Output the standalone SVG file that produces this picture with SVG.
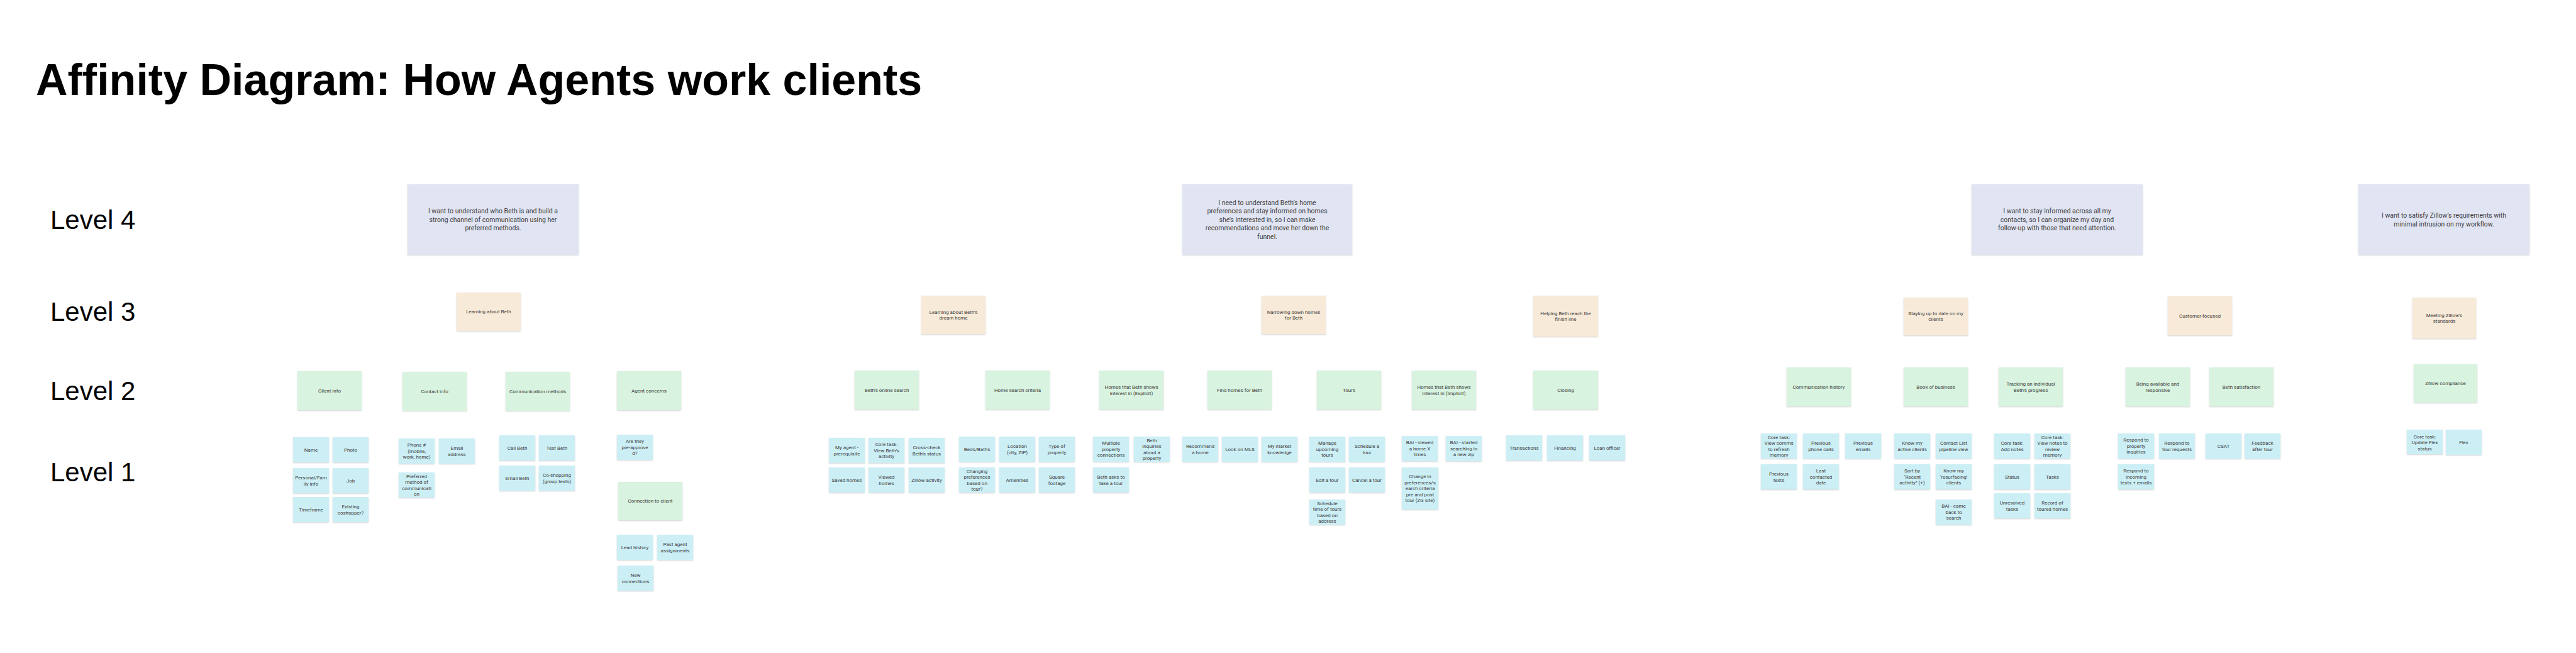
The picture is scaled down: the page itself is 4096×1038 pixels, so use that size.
<svg xmlns="http://www.w3.org/2000/svg" width="4096" height="1038" viewBox="0 0 4096 1038">
<defs>
<filter id="sh" x="-10%" y="-10%" width="120%" height="130%"><feDropShadow dx="0" dy="1" stdDeviation="1" flood-color="#000" flood-opacity="0.18"/></filter>
<style>
.n4{fill:#E1E4F2;filter:url(#sh)}
.n3{fill:#F8EAD8;filter:url(#sh)}
.n2{fill:#D8F3DF;filter:url(#sh)}
.n1{fill:#CCEFF6;filter:url(#sh)}
.t{font-family:Roboto,'Liberation Sans',sans-serif;font-size:8px;fill:#3c3c3c;text-anchor:middle}
.tl{font-family:Roboto,'Liberation Sans',sans-serif;font-size:10.5px;fill:#3c3c3c;text-anchor:middle}
.title{font-family:'Liberation Sans',Arial,sans-serif;font-size:70px;font-weight:bold;fill:#000}
.lvl{font-family:'Liberation Sans',Arial,sans-serif;font-size:42px;fill:#000}
</style>
</defs>
<rect width="4096" height="1038" fill="#fff"/>
<text class="title" x="57" y="151">Affinity Diagram: How Agents work clients</text>
<g id="levels">
<text class="lvl" x="80" y="364">Level 4</text>
<text class="lvl" x="80" y="510">Level 3</text>
<text class="lvl" x="80" y="636">Level 2</text>
<text class="lvl" x="80" y="765">Level 1</text>
</g>
<g id="connectors"/>

<!-- Level 4 -->
<g id="l4-a"><rect class="n4" x="648" y="293" width="272" height="112"/><text class="tl" y="339.2"><tspan x="784">I want to understand who Beth is and build a</tspan><tspan x="784" dy="13.5">strong channel of communication using her</tspan><tspan x="784" dy="13.5">preferred methods.</tspan></text></g>
<g id="l4-b"><rect class="n4" x="1880" y="293" width="270" height="112"/><text class="tl" y="325.7"><tspan x="2015">I need to understand Beth’s home</tspan><tspan x="2015" dy="13.5">preferences and stay informed on homes</tspan><tspan x="2015" dy="13.5">she’s interested in, so I can make</tspan><tspan x="2015" dy="13.5">recommendations and move her down the</tspan><tspan x="2015" dy="13.5">funnel.</tspan></text></g>
<g id="l4-c"><rect class="n4" x="3135" y="293" width="272" height="112"/><text class="tl" y="339.2"><tspan x="3271">I want to stay informed across all my</tspan><tspan x="3271" dy="13.5">contacts, so I can organize my day and</tspan><tspan x="3271" dy="13.5">follow-up with those that need attention.</tspan></text></g>
<g id="l4-d"><rect class="n4" x="3750" y="293" width="272" height="112"/><text class="tl" y="346"><tspan x="3886">I want to satisfy Zillow’s requirements with</tspan><tspan x="3886" dy="13.5">minimal intrusion on my workflow.</tspan></text></g>

<!-- Level 3 -->
<g id="l3-learning-beth"><rect class="n3" x="726" y="465" width="102" height="61"/><text class="t" x="777" y="498.3">Learning about Beth</text></g>
<g id="l3-dream-home"><rect class="n3" x="1465" y="470" width="102" height="61"/><text class="t" y="498.55"><tspan x="1516">Learning about Beth’s</tspan><tspan x="1516" dy="9.5">dream home</tspan></text></g>
<g id="l3-narrowing"><rect class="n3" x="2006" y="470" width="102" height="61"/><text class="t" y="498.55"><tspan x="2057">Narrowing down homes</tspan><tspan x="2057" dy="9.5">for Beth</tspan></text></g>
<g id="l3-finish"><rect class="n3" x="2438" y="470" width="103" height="65"/><text class="t" y="500.55"><tspan x="2489.5">Helping Beth reach the</tspan><tspan x="2489.5" dy="9.5">finish line</tspan></text></g>
<g id="l3-staying"><rect class="n3" x="3027" y="473" width="102" height="60"/><text class="t" y="500.55"><tspan x="3078">Staying up to date on my</tspan><tspan x="3078" dy="9.5">clients</tspan></text></g>
<g id="l3-customer"><rect class="n3" x="3447" y="471" width="102" height="62"/><text class="t" x="3498" y="504.8">Customer-focused</text></g>
<g id="l3-zillow"><rect class="n3" x="3836" y="473" width="101" height="65"/><text class="t" y="503.55"><tspan x="3886.5">Meeting Zillow’s</tspan><tspan x="3886.5" dy="9.5">standards</tspan></text></g>

<!-- Level 2 -->
<g id="l2-client-info"><rect class="n2" x="473" y="590" width="102" height="62"/><text class="t" x="524" y="623.8">Client info</text></g>
<g id="l2-contact-info"><rect class="n2" x="640" y="591" width="102" height="62"/><text class="t" x="691" y="624.8">Contact info</text></g>
<g id="l2-comm-methods"><rect class="n2" x="804" y="591" width="102" height="62"/><text class="t" x="855" y="624.8">Communication methods</text></g>
<g id="l2-agent-concerns"><rect class="n2" x="981" y="590" width="102" height="62"/><text class="t" x="1032" y="623.8">Agent concerns</text></g>
<g id="l2-connection"><rect class="n2" x="983" y="766" width="102" height="61"/><text class="t" x="1034" y="799.3">Connection to client</text></g>
<g id="l2-online-search"><rect class="n2" x="1359" y="589" width="102" height="62"/><text class="t" x="1410" y="622.8">Beth’s online search</text></g>
<g id="l2-criteria"><rect class="n2" x="1567" y="589" width="102" height="62"/><text class="t" x="1618" y="622.8">Home search criteria</text></g>
<g id="l2-explicit"><rect class="n2" x="1748" y="589" width="102" height="62"/><text class="t" y="618.05"><tspan x="1799">Homes that Beth shows</tspan><tspan x="1799" dy="9.5">interest in (Explicit)</tspan></text></g>
<g id="l2-find-homes"><rect class="n2" x="1920" y="589" width="102" height="62"/><text class="t" x="1971" y="622.8">Find homes for Beth</text></g>
<g id="l2-tours"><rect class="n2" x="2094" y="589" width="102" height="62"/><text class="t" x="2145" y="622.8">Tours</text></g>
<g id="l2-implicit"><rect class="n2" x="2245" y="589" width="102" height="62"/><text class="t" y="618.05"><tspan x="2296">Homes that Beth shows</tspan><tspan x="2296" dy="9.5">interest in (Implicit)</tspan></text></g>
<g id="l2-closing"><rect class="n2" x="2438" y="589" width="103" height="62"/><text class="t" x="2489.5" y="622.8">Closing</text></g>
<g id="l2-comm-history"><rect class="n2" x="2841" y="584" width="102" height="62"/><text class="t" x="2892" y="617.8">Communication history</text></g>
<g id="l2-book"><rect class="n2" x="3027" y="584" width="102" height="62"/><text class="t" x="3078" y="617.8">Book of business</text></g>
<g id="l2-tracking"><rect class="n2" x="3178" y="584" width="102" height="62"/><text class="t" y="613.05"><tspan x="3229">Tracking an individual</tspan><tspan x="3229" dy="9.5">Beth’s progress</tspan></text></g>
<g id="l2-available"><rect class="n2" x="3380" y="584" width="102" height="62"/><text class="t" y="613.05"><tspan x="3431">Being available and</tspan><tspan x="3431" dy="9.5">responsive</tspan></text></g>
<g id="l2-satisfaction"><rect class="n2" x="3513" y="584" width="102" height="62"/><text class="t" x="3564" y="617.8">Beth satisfaction</text></g>
<g id="l2-compliance"><rect class="n2" x="3838" y="579" width="101" height="61"/><text class="t" x="3888.5" y="612.3">Zillow compliance</text></g>

<!-- Level 1: section 1 -->
<g id="s-name"><rect class="n1" x="466" y="695" width="57" height="40"/><text class="t" x="494.5" y="717.8">Name</text></g>
<g id="s-photo"><rect class="n1" x="529" y="695" width="57" height="40"/><text class="t" x="557.5" y="717.8">Photo</text></g>
<g id="s-personal"><rect class="n1" x="466" y="744" width="57" height="40"/><text class="t" y="762.05"><tspan x="494.5">Personal/Fam</tspan><tspan x="494.5" dy="9.5">ily info</tspan></text></g>
<g id="s-job"><rect class="n1" x="529" y="744" width="57" height="40"/><text class="t" x="557.5" y="766.8">Job</text></g>
<g id="s-timeframe"><rect class="n1" x="466" y="790" width="57" height="40"/><text class="t" x="494.5" y="812.8">Timeframe</text></g>
<g id="s-coshopper"><rect class="n1" x="529" y="790" width="57" height="40"/><text class="t" y="808.05"><tspan x="557.5">Existing</tspan><tspan x="557.5" dy="9.5">coshopper?</tspan></text></g>
<g id="s-phone"><rect class="n1" x="634" y="697" width="57" height="40"/><text class="t" y="710.3"><tspan x="662.5">Phone #</tspan><tspan x="662.5" dy="9.5">(mobile,</tspan><tspan x="662.5" dy="9.5">work, home)</tspan></text></g>
<g id="s-email-address"><rect class="n1" x="698" y="697" width="57" height="40"/><text class="t" y="715.05"><tspan x="726.5">Email</tspan><tspan x="726.5" dy="9.5">address</tspan></text></g>
<g id="s-preferred"><rect class="n1" x="634" y="751" width="57" height="40"/><text class="t" y="759.55"><tspan x="662.5">Preferred</tspan><tspan x="662.5" dy="9.5">method of</tspan><tspan x="662.5" dy="9.5">communicati</tspan><tspan x="662.5" dy="9.5">on</tspan></text></g>
<g id="s-call"><rect class="n1" x="794" y="692" width="57" height="40"/><text class="t" x="822.5" y="714.8">Call Beth</text></g>
<g id="s-text"><rect class="n1" x="857" y="692" width="57" height="40"/><text class="t" x="885.5" y="714.8">Text Beth</text></g>
<g id="s-email-beth"><rect class="n1" x="794" y="740" width="57" height="40"/><text class="t" x="822.5" y="762.8">Email Beth</text></g>
<g id="s-coshopping"><rect class="n1" x="857" y="740" width="57" height="40"/><text class="t" y="758.05"><tspan x="885.5">Co-shopping</tspan><tspan x="885.5" dy="9.5">(group texts)</tspan></text></g>
<g id="s-preapproved"><rect class="n1" x="981" y="691" width="57" height="40"/><text class="t" y="704.3"><tspan x="1009.5">Are they</tspan><tspan x="1009.5" dy="9.5">pre-approve</tspan><tspan x="1009.5" dy="9.5">d?</tspan></text></g>
<g id="s-lead"><rect class="n1" x="981" y="850" width="57" height="40"/><text class="t" x="1009.5" y="872.8">Lead history</text></g>
<g id="s-past-agent"><rect class="n1" x="1045" y="850" width="57" height="40"/><text class="t" y="868.05"><tspan x="1073.5">Past agent</tspan><tspan x="1073.5" dy="9.5">assignments</tspan></text></g>
<g id="s-new-conn"><rect class="n1" x="982" y="899" width="57" height="40"/><text class="t" y="917.05"><tspan x="1010.5">New</tspan><tspan x="1010.5" dy="9.5">connections</tspan></text></g>

<!-- Level 1: section 2 -->
<g id="s-my-agent"><rect class="n1" x="1318" y="696" width="57" height="40"/><text class="t" y="714.05"><tspan x="1346.5">My agent -</tspan><tspan x="1346.5" dy="9.5">prerequisite</tspan></text></g>
<g id="s-view-activity"><rect class="n1" x="1381" y="696" width="57" height="40"/><text class="t" y="709.3"><tspan x="1409.5">Core task:</tspan><tspan x="1409.5" dy="9.5">View Beth’s</tspan><tspan x="1409.5" dy="9.5">activity</tspan></text></g>
<g id="s-crosscheck"><rect class="n1" x="1445" y="696" width="57" height="40"/><text class="t" y="714.05"><tspan x="1473.5">Cross-check</tspan><tspan x="1473.5" dy="9.5">Beth’s status</tspan></text></g>
<g id="s-saved"><rect class="n1" x="1318" y="743" width="57" height="40"/><text class="t" x="1346.5" y="765.8">Saved homes</text></g>
<g id="s-viewed"><rect class="n1" x="1381" y="743" width="57" height="40"/><text class="t" y="761.05"><tspan x="1409.5">Viewed</tspan><tspan x="1409.5" dy="9.5">homes</tspan></text></g>
<g id="s-zillow-activity"><rect class="n1" x="1445" y="743" width="57" height="40"/><text class="t" x="1473.5" y="765.8">Zillow activity</text></g>
<g id="s-beds"><rect class="n1" x="1525" y="694" width="57" height="40"/><text class="t" x="1553.5" y="716.8">Beds/Baths</text></g>
<g id="s-location"><rect class="n1" x="1589" y="694" width="57" height="40"/><text class="t" y="712.05"><tspan x="1617.5">Location</tspan><tspan x="1617.5" dy="9.5">(city, ZIP)</tspan></text></g>
<g id="s-type"><rect class="n1" x="1652" y="694" width="57" height="40"/><text class="t" y="712.05"><tspan x="1680.5">Type of</tspan><tspan x="1680.5" dy="9.5">property</tspan></text></g>
<g id="s-changing"><rect class="n1" x="1525" y="743" width="57" height="40"/><text class="t" y="751.55"><tspan x="1553.5">Changing</tspan><tspan x="1553.5" dy="9.5">preferences</tspan><tspan x="1553.5" dy="9.5">based on</tspan><tspan x="1553.5" dy="9.5">tour?</tspan></text></g>
<g id="s-amenities"><rect class="n1" x="1589" y="743" width="57" height="40"/><text class="t" x="1617.5" y="765.8">Amenities</text></g>
<g id="s-sqft"><rect class="n1" x="1652" y="743" width="57" height="40"/><text class="t" y="761.05"><tspan x="1680.5">Square</tspan><tspan x="1680.5" dy="9.5">footage</tspan></text></g>
<g id="s-multiple"><rect class="n1" x="1738" y="694" width="57" height="40"/><text class="t" y="707.3"><tspan x="1766.5">Multiple</tspan><tspan x="1766.5" dy="9.5">property</tspan><tspan x="1766.5" dy="9.5">connections</tspan></text></g>
<g id="s-inquiries"><rect class="n1" x="1803" y="694" width="57" height="40"/><text class="t" y="702.55"><tspan x="1831.5">Beth</tspan><tspan x="1831.5" dy="9.5">inquiries</tspan><tspan x="1831.5" dy="9.5">about a</tspan><tspan x="1831.5" dy="9.5">property</tspan></text></g>
<g id="s-asks-tour"><rect class="n1" x="1738" y="743" width="57" height="40"/><text class="t" y="761.05"><tspan x="1766.5">Beth asks to</tspan><tspan x="1766.5" dy="9.5">take a tour</tspan></text></g>
<g id="s-recommend"><rect class="n1" x="1880" y="694" width="57" height="40"/><text class="t" y="712.05"><tspan x="1908.5">Recommend</tspan><tspan x="1908.5" dy="9.5">a home</tspan></text></g>
<g id="s-mls"><rect class="n1" x="1943" y="694" width="57" height="40"/><text class="t" x="1971.5" y="716.8">Look on MLS</text></g>
<g id="s-market"><rect class="n1" x="2006" y="694" width="57" height="40"/><text class="t" y="712.05"><tspan x="2034.5">My market</tspan><tspan x="2034.5" dy="9.5">knowledge</tspan></text></g>
<g id="s-manage-tours"><rect class="n1" x="2082" y="694" width="57" height="40"/><text class="t" y="707.3"><tspan x="2110.5">Manage</tspan><tspan x="2110.5" dy="9.5">upcoming</tspan><tspan x="2110.5" dy="9.5">tours</tspan></text></g>
<g id="s-schedule-tour"><rect class="n1" x="2145" y="694" width="57" height="40"/><text class="t" y="712.05"><tspan x="2173.5">Schedule a</tspan><tspan x="2173.5" dy="9.5">tour</tspan></text></g>
<g id="s-edit-tour"><rect class="n1" x="2082" y="743" width="57" height="40"/><text class="t" x="2110.5" y="765.8">Edit a tour</text></g>
<g id="s-cancel-tour"><rect class="n1" x="2145" y="743" width="57" height="40"/><text class="t" x="2173.5" y="765.8">Cancel a tour</text></g>
<g id="s-schedule-time"><rect class="n1" x="2082" y="794" width="57" height="40"/><text class="t" y="802.55"><tspan x="2110.5">Schedule</tspan><tspan x="2110.5" dy="9.5">time of tours</tspan><tspan x="2110.5" dy="9.5">based on</tspan><tspan x="2110.5" dy="9.5">address</tspan></text></g>
<g id="s-bai-viewed"><rect class="n1" x="2229" y="693" width="57" height="40"/><text class="t" y="706.3"><tspan x="2257.5">BAI - viewed</tspan><tspan x="2257.5" dy="9.5">a home X</tspan><tspan x="2257.5" dy="9.5">times</tspan></text></g>
<g id="s-bai-zip"><rect class="n1" x="2299" y="693" width="57" height="40"/><text class="t" y="706.3"><tspan x="2327.5">BAI - started</tspan><tspan x="2327.5" dy="9.5">searching in</tspan><tspan x="2327.5" dy="9.5">a new zip</tspan></text></g>
<g id="s-change-pref"><rect class="n1" x="2229" y="743" width="58" height="67"/><text class="t" y="760.3"><tspan x="2258">Change in</tspan><tspan x="2258" dy="9.5">preferences/s</tspan><tspan x="2258" dy="9.5">earch criteria</tspan><tspan x="2258" dy="9.5">pre and post</tspan><tspan x="2258" dy="9.5">tour (ZG site)</tspan></text></g>
<g id="s-transactions"><rect class="n1" x="2395" y="692" width="57" height="40"/><text class="t" x="2423.5" y="714.8">Transactions</text></g>
<g id="s-financing"><rect class="n1" x="2460" y="692" width="57" height="40"/><text class="t" x="2488.5" y="714.8">Financing</text></g>
<g id="s-loan"><rect class="n1" x="2527" y="692" width="57" height="40"/><text class="t" x="2555.5" y="714.8">Loan officer</text></g>

<!-- Level 1: section 3 -->
<g id="s-view-comms"><rect class="n1" x="2800" y="689" width="57" height="40"/><text class="t" y="697.55"><tspan x="2828.5">Core task:</tspan><tspan x="2828.5" dy="9.5">View comms</tspan><tspan x="2828.5" dy="9.5">to refresh</tspan><tspan x="2828.5" dy="9.5">memory</tspan></text></g>
<g id="s-prev-calls"><rect class="n1" x="2867" y="689" width="57" height="40"/><text class="t" y="707.05"><tspan x="2895.5">Previous</tspan><tspan x="2895.5" dy="9.5">phone calls</tspan></text></g>
<g id="s-prev-emails"><rect class="n1" x="2934" y="689" width="57" height="40"/><text class="t" y="707.05"><tspan x="2962.5">Previous</tspan><tspan x="2962.5" dy="9.5">emails</tspan></text></g>
<g id="s-prev-texts"><rect class="n1" x="2800" y="738" width="57" height="40"/><text class="t" y="756.05"><tspan x="2828.5">Previous</tspan><tspan x="2828.5" dy="9.5">texts</tspan></text></g>
<g id="s-last-contacted"><rect class="n1" x="2867" y="738" width="57" height="40"/><text class="t" y="751.3"><tspan x="2895.5">Last</tspan><tspan x="2895.5" dy="9.5">contacted</tspan><tspan x="2895.5" dy="9.5">date</tspan></text></g>
<g id="s-active-clients"><rect class="n1" x="3012" y="689" width="57" height="40"/><text class="t" y="707.05"><tspan x="3040.5">Know my</tspan><tspan x="3040.5" dy="9.5">active clients</tspan></text></g>
<g id="s-contact-list"><rect class="n1" x="3078" y="689" width="57" height="40"/><text class="t" y="707.05"><tspan x="3106.5">Contact List</tspan><tspan x="3106.5" dy="9.5">pipeline view</tspan></text></g>
<g id="s-sort"><rect class="n1" x="3012" y="738" width="57" height="40"/><text class="t" y="751.3"><tspan x="3040.5">Sort by</tspan><tspan x="3040.5" dy="9.5">“Recent</tspan><tspan x="3040.5" dy="9.5">activity” (+)</tspan></text></g>
<g id="s-resurfacing"><rect class="n1" x="3078" y="738" width="57" height="40"/><text class="t" y="751.3"><tspan x="3106.5">Know my</tspan><tspan x="3106.5" dy="9.5">‘resurfacing’</tspan><tspan x="3106.5" dy="9.5">clients</tspan></text></g>
<g id="s-bai-back"><rect class="n1" x="3078" y="794" width="57" height="40"/><text class="t" y="807.3"><tspan x="3106.5">BAI - came</tspan><tspan x="3106.5" dy="9.5">back to</tspan><tspan x="3106.5" dy="9.5">search</tspan></text></g>
<g id="s-add-notes"><rect class="n1" x="3171" y="689" width="57" height="40"/><text class="t" y="707.05"><tspan x="3199.5">Core task:</tspan><tspan x="3199.5" dy="9.5">Add notes</tspan></text></g>
<g id="s-view-notes"><rect class="n1" x="3235" y="689" width="57" height="40"/><text class="t" y="697.55"><tspan x="3263.5">Core task:</tspan><tspan x="3263.5" dy="9.5">View notes to</tspan><tspan x="3263.5" dy="9.5">review</tspan><tspan x="3263.5" dy="9.5">memory</tspan></text></g>
<g id="s-status"><rect class="n1" x="3171" y="738" width="57" height="40"/><text class="t" x="3199.5" y="760.8">Status</text></g>
<g id="s-tasks"><rect class="n1" x="3235" y="738" width="57" height="40"/><text class="t" x="3263.5" y="760.8">Tasks</text></g>
<g id="s-unresolved"><rect class="n1" x="3171" y="784" width="57" height="40"/><text class="t" y="802.05"><tspan x="3199.5">Unresolved</tspan><tspan x="3199.5" dy="9.5">tasks</tspan></text></g>
<g id="s-toured"><rect class="n1" x="3235" y="784" width="57" height="40"/><text class="t" y="802.05"><tspan x="3263.5">Record of</tspan><tspan x="3263.5" dy="9.5">toured homes</tspan></text></g>
<g id="s-resp-property"><rect class="n1" x="3368" y="689" width="57" height="40"/><text class="t" y="702.3"><tspan x="3396.5">Respond to</tspan><tspan x="3396.5" dy="9.5">property</tspan><tspan x="3396.5" dy="9.5">inquiries</tspan></text></g>
<g id="s-resp-tour"><rect class="n1" x="3433" y="689" width="57" height="40"/><text class="t" y="707.05"><tspan x="3461.5">Respond to</tspan><tspan x="3461.5" dy="9.5">tour requests</tspan></text></g>
<g id="s-csat"><rect class="n1" x="3507" y="689" width="57" height="40"/><text class="t" x="3535.5" y="711.8">CSAT</text></g>
<g id="s-feedback"><rect class="n1" x="3569" y="689" width="57" height="40"/><text class="t" y="707.05"><tspan x="3597.5">Feedback</tspan><tspan x="3597.5" dy="9.5">after tour</tspan></text></g>
<g id="s-resp-incoming"><rect class="n1" x="3368" y="738" width="57" height="40"/><text class="t" y="751.3"><tspan x="3396.5">Respond to</tspan><tspan x="3396.5" dy="9.5">incoming</tspan><tspan x="3396.5" dy="9.5">texts + emails</tspan></text></g>

<!-- Level 1: section 4 -->
<g id="s-flex-status"><rect class="n1" x="3827" y="683" width="57" height="39"/><text class="t" y="696.8"><tspan x="3855.5">Core task:</tspan><tspan x="3855.5" dy="9.5">Update Flex</tspan><tspan x="3855.5" dy="9.5">status</tspan></text></g>
<g id="s-flex"><rect class="n1" x="3889" y="683" width="57" height="40"/><text class="t" x="3917.5" y="705.8">Flex</text></g>
</svg>
